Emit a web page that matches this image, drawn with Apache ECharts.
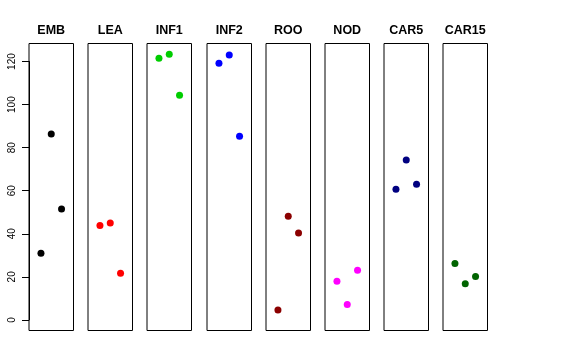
<!DOCTYPE html>
<html>
<head>
<meta charset="utf-8">
<script src="https://cdn.jsdelivr.net/npm/echarts@6/dist/echarts.min.js"></script>
<style>html,body{margin:0;padding:0;background:#fff}#c{width:576px;height:360px}</style>
</head>
<body>
<div id="c"></div>
<script>
var categories = ["EMB", "LEA", "INF1", "INF2", "ROO", "NOD", "CAR5", "CAR15"];
var colors = ["#000000", "#FF0000", "#00CD00", "#0000FF", "#8B0000", "#FF00FF", "#000080", "#006400"];
var xPositions = [1, 2, 3];
var values = [
  [31.0, 86.4, 51.5],
  [43.9, 45.0, 21.7],
  [121.5, 123.4, 104.3],
  [119.2, 123.1, 85.3],
  [4.6, 48.1, 40.4],
  [17.9, 7.1, 23.0],
  [60.7, 74.3, 63.0],
  [26.2, 16.8, 20.2]
];
var yTickMin = 0, yTickMax = 120, yTickStep = 20;

(function () {
  var chart = echarts.init(document.getElementById('c'), null, {renderer: 'canvas'});
  var font = 'Liberation Sans, Arial, Helvetica, sans-serif';
  var grids = [], xAxes = [], yAxes = [], series = [], titles = [];
  var left0 = 29, step = 59.2, w = 44.5, gTop = 43.5, h = 287;
  var yMin = -4.94, yMax = 128.4;
  categories.forEach(function (cat, i) {
    var l = Math.round(left0 + i * step);
    grids.push({left: l, top: gTop, width: w, height: h, show: true, borderColor: '#000', borderWidth: 1, backgroundColor: 'transparent'});
    xAxes.push({gridIndex: i, type: 'value', min: -0.16, max: 4.16, show: false});
    yAxes.push({gridIndex: i, type: 'value', min: yMin, max: yMax, show: false});
    titles.push({text: cat, left: l + w / 2, top: 24, textAlign: 'center', padding: 0,
      textStyle: {fontSize: 12.5, fontWeight: 'bold', color: '#000', fontFamily: font}});
    series.push({
      type: 'scatter', xAxisIndex: i, yAxisIndex: i, symbolSize: 7,
      itemStyle: {color: colors[i], opacity: 1},
      data: xPositions.map(function (x, k) { return [x, values[i][k]]; }),
      silent: true, animation: false
    });
  });
  var pxPer = h / (yMax - yMin);
  var aTop = gTop + (yMax - yTickMax) * pxPer;
  var aH = (yTickMax - yTickMin) * pxPer;
  grids.push({left: left0, top: aTop, width: w, height: aH, show: false});
  xAxes.push({gridIndex: 8, type: 'value', min: 0, max: 1, show: false});
  yAxes.push({gridIndex: 8, type: 'value', min: yTickMin, max: yTickMax, interval: yTickStep,
    splitLine: {show: false},
    axisLine: {show: true, lineStyle: {color: '#000', width: 1}},
    axisTick: {show: true, length: 7, lineStyle: {color: '#000'}},
    axisLabel: {show: true, rotate: 90, margin: 12, color: '#000', fontSize: 10, fontFamily: font}
  });
  chart.setOption({animation: false, title: titles, grid: grids, xAxis: xAxes, yAxis: yAxes, series: series});
})();
</script>
</body>
</html>
